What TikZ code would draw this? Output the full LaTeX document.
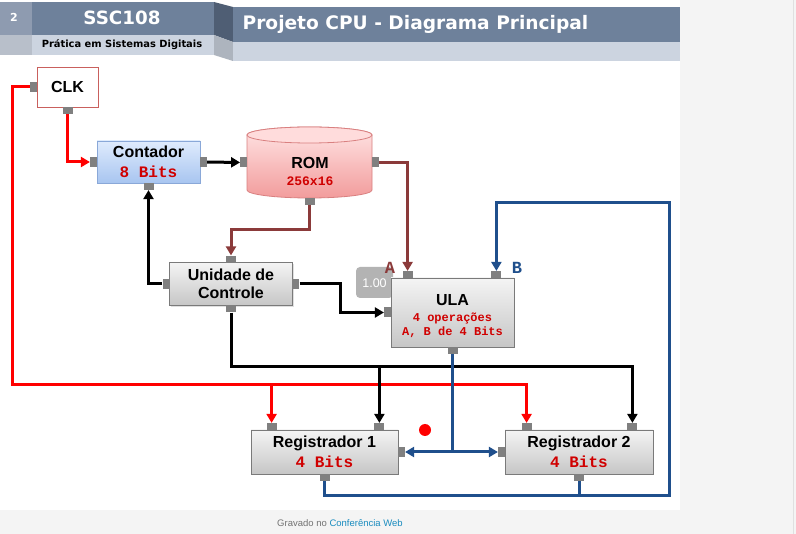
\documentclass[tikz,border=0pt]{standalone}
\usepackage{fontspec}
\setmainfont{Liberation Sans}
\newfontfamily\codefont{Liberation Mono}
\newfontfamily\headfont{DejaVu Sans}
\usetikzlibrary{arrows.meta,shadows}
\definecolor{bandblue}{HTML}{6E819B}
\definecolor{bandgray}{HTML}{8E9BB0}
\definecolor{bandlight}{HTML}{CCD4E0}
\definecolor{bandfold}{HTML}{4F5E74}
\definecolor{panelgray}{HTML}{F4F4F4}
\definecolor{portgray}{HTML}{808080}
\definecolor{clkedge}{HTML}{C9605D}
\definecolor{contedge}{HTML}{8AA8D8}
\definecolor{conttop}{HTML}{DFEBFD}
\definecolor{contbot}{HTML}{A8C5F0}
\definecolor{boxedge}{HTML}{7A7A7A}
\definecolor{boxtop}{HTML}{F4F4F4}
\definecolor{boxbot}{HTML}{C6C6C6}
\definecolor{romedge}{HTML}{D98080}
\definecolor{romtop}{HTML}{FFE4E4}
\definecolor{rombot}{HTML}{F29C9C}
\definecolor{romlid}{HTML}{FFDCDC}
\definecolor{bitred}{HTML}{D00000}
\definecolor{brownline}{HTML}{8B3A3A}
\definecolor{busblue}{HTML}{1F4F8C}
\definecolor{weblink}{HTML}{1A8CBF}
\newcommand\redbits[2][16]{{\fontsize{#1}{#1}\selectfont\codefont\bfseries\color{bitred}#2}}
\begin{document}
\begin{tikzpicture}[x=1pt,y=1pt]
\tikzstyle{every node}+=[inner sep=0pt]
\tikzstyle{block}=[draw=boxedge, line width=0.8pt, top color=boxtop, bottom color=boxbot, align=center,
  font=\fontsize{16}{19}\selectfont\bfseries, drop shadow={opacity=0.25,shadow xshift=1pt,shadow yshift=-1.5pt}]
\tikzstyle{hport}=[fill=portgray, minimum width=7pt, minimum height=10pt]
\tikzstyle{vport}=[fill=portgray, minimum width=10pt, minimum height=7pt]
\tikzstyle{wire}=[line width=3pt]
\tikzstyle{clkline}=[wire, red]
\tikzstyle{ctlline}=[wire, black]
\tikzstyle{romline}=[wire, brownline]
\tikzstyle{busline}=[wire, busblue]
\tikzstyle{tip}=[-{Triangle[length=9pt,width=10pt]}]
\useasboundingbox (0,0) rectangle (796,-534);
\fill[white] (0,0) rectangle (680,-510);
\fill[panelgray] (680,0) rectangle (796,-534);
\fill[panelgray] (0,-510) rectangle (680,-534);
\draw[black!12, line width=1pt] (793,0) -- (793,-534);
\fill[bandgray] (0,-2) rectangle (32,-35);
\fill[bandblue] (32,-2) rectangle (214,-35);
\fill[bandlight!90!black] (0,-35) rectangle (32,-55);
\fill[bandlight] (32,-35) rectangle (214,-55);
\fill[bandfold] (214,-2) -- (233,-7) -- (233,-42) -- (214,-35) -- cycle;
\fill[bandlight!85!black] (214,-35) -- (233,-42) -- (233,-61) -- (214,-55) -- cycle;
\fill[bandblue] (233,-7) rectangle (680,-42);
\fill[bandlight] (233,-42) rectangle (680,-61);
\node[text=white, font=\headfont\bfseries\fontsize{11}{13}\selectfont] (slideno) at (14,-17) {2};
\node[text=white, font=\headfont\bfseries\fontsize{18.3}{22}\selectfont] (course) at (122,-18) {SSC108};
\node[font=\headfont\bfseries\fontsize{9.9}{12}\selectfont] (subject) at (122,-45) {Prática em Sistemas Digitais};
\node[text=white, font=\headfont\bfseries\fontsize{18.6}{22}\selectfont] (title) at (415.5,-24) {Projeto CPU - Diagrama Principal};
\node[font=\fontsize{9.5}{11}\selectfont] (footer) at (340,-523) {\color{black!55}Gravado no \color{weblink}Conferência Web};
\node[block, draw=clkedge, top color=white, bottom color=white, minimum width=61pt, minimum height=40pt] (clk) at (67.5,-87) {CLK};
\node[block, draw=contedge, top color=conttop, bottom color=contbot, minimum width=103pt, minimum height=42pt] (cont) at (148.5,-162) {Contador\\[1pt]\redbits{8 Bits}};
\node[minimum width=125pt, minimum height=71pt] (rom) at (309.5,-162.5) {};
\draw[romedge, line width=0.8pt, top color=romtop, bottom color=rombot] (247,-135) -- (247,-190)
  arc[start angle=180, end angle=360, x radius=62.5, y radius=8] -- (372,-135)
  arc[start angle=0, end angle=180, x radius=62.5, y radius=8] -- cycle;
\draw[romedge, line width=0.8pt, fill=romlid] (309.5,-135) ellipse[x radius=62.5, y radius=8];
\node[align=center, font=\fontsize{16}{18}\selectfont\bfseries] (romtext) at (310,-171) {ROM\\[-1pt]\redbits[13]{256x16}};
\node[block, minimum width=123pt, minimum height=43pt] (uc) at (231,-284) {Unidade de\\[-1pt]Controle};
\node[fill=black!35, opacity=0.85, rounded corners=4pt, minimum width=37pt, minimum height=31pt] (zoomtag) at (374.5,-282.5) {};
\node[text=white, font=\fontsize{12.5}{14}\selectfont] at (374.5,-283) {1.00};
\node[block, minimum width=123pt, minimum height=69pt] (ula) at (452.5,-312.5) {\rule{0pt}{17.5pt}ULA\\[-3pt]\redbits[12]{4 operações}\\[-5pt]\redbits[12]{A, B de 4 Bits}};
\node[block, minimum width=147pt, minimum height=44pt] (reg1) at (324.5,-452) {Registrador 1\\[1pt]\redbits{4 Bits}};
\node[block, minimum width=148pt, minimum height=44pt] (reg2) at (579,-452) {Registrador 2\\[1pt]\redbits{4 Bits}};
\node[hport] (clkL) at ([xshift=-3pt]clk.west) {};
\node[vport] (clkB) at ([yshift=-3pt]clk.south) {};
\node[hport] (contL) at ([xshift=-3pt]cont.west) {};
\node[hport] (contR) at ([xshift=3pt]cont.east) {};
\node[vport] (contB) at ([yshift=-3pt]cont.south) {};
\node[hport] (romL) at ([xshift=-3pt]rom.west) {};
\node[hport] (romR) at ([xshift=3pt]rom.east) {};
\node[vport] (romB) at ([yshift=-3pt]rom.south) {};
\node[vport] (ucT) at ([yshift=3pt]uc.north) {};
\node[hport] (ucL) at ([xshift=-3pt]uc.west) {};
\node[hport] (ucR) at ([xshift=3pt]uc.east) {};
\node[vport] (ucB) at ([yshift=-3pt]uc.south) {};
\node[vport] (ulaA) at ([xshift=17pt,yshift=3pt]ula.north west) {};
\node[vport] (ulaB) at ([xshift=-18pt,yshift=3pt]ula.north east) {};
\node[hport] (ulaL) at ([xshift=-3pt]ula.west) {};
\node[vport] (ulaS) at ([yshift=-3pt]ula.south) {};
\node[vport] (r1a) at ([xshift=21pt,yshift=3pt]reg1.north west) {};
\node[vport] (r1b) at ([xshift=-19pt,yshift=3pt]reg1.north east) {};
\node[hport] (r1R) at ([xshift=3pt]reg1.east) {};
\node[vport] (r1S) at ([yshift=-3pt]reg1.south) {};
\node[vport] (r2a) at ([xshift=22pt,yshift=3pt]reg2.north west) {};
\node[vport] (r2b) at ([xshift=-21pt,yshift=3pt]reg2.north east) {};
\node[hport] (r2L) at ([xshift=-3pt]reg2.west) {};
\node[vport] (r2S) at ([yshift=-3pt]reg2.south) {};
\node[text=brownline, font=\codefont\bfseries\fontsize{17}{17}\selectfont] (labA) at (390,-268) {A};
\node[text=busblue, font=\codefont\bfseries\fontsize{17}{17}\selectfont] (labB) at (517,-268) {B};
\coordinate (clkbus) at (12,-385);
\coordinate (ctlbus) at (r2b |- 0,-367);
\coordinate (romdrop) at (romB |- 0,-230);
\coordinate (ucbend) at (340,-300);
\coordinate (ulajoin) at (ulaS |- r1R);
\coordinate (fbbot) at (669,-496);
\coordinate (fbtop) at (669,-203);
\draw[clkline, tip] (clkB) |- (contL);
\draw[clkline, tip] (clkL) -| (clkbus) -| (r2a);
\draw[clkline, tip] (r1a |- clkbus) -- (r1a);
\draw[ctlline, tip] (contR) -- (romL);
\draw[ctlline, tip] (ucL) -| (contB);
\draw[ctlline, tip] (ucR) -| (ucbend) |- (ulaL);
\draw[ctlline, tip] (ucB) |- (ctlbus) -- (r2b);
\draw[ctlline, tip] (r1b |- ctlbus) -- (r1b);
\draw[romline, tip] (romR) -| (ulaA);
\draw[romline, tip] (romB) -- (romdrop) -| (ucT);
\draw[busline] (ulaS) -- (ulajoin);
\draw[busline, {Triangle[length=9pt,width=10pt]}-{Triangle[length=9pt,width=10pt]}] (r1R) -- (r2L);
\draw[busline, tip] (r1S) |- (fbbot) -- (fbtop) -| (ulaB);
\draw[busline] (r2S) -- (r2S |- fbbot);
\fill[red] (425,-430) circle (6);
\end{tikzpicture}
\end{document}
